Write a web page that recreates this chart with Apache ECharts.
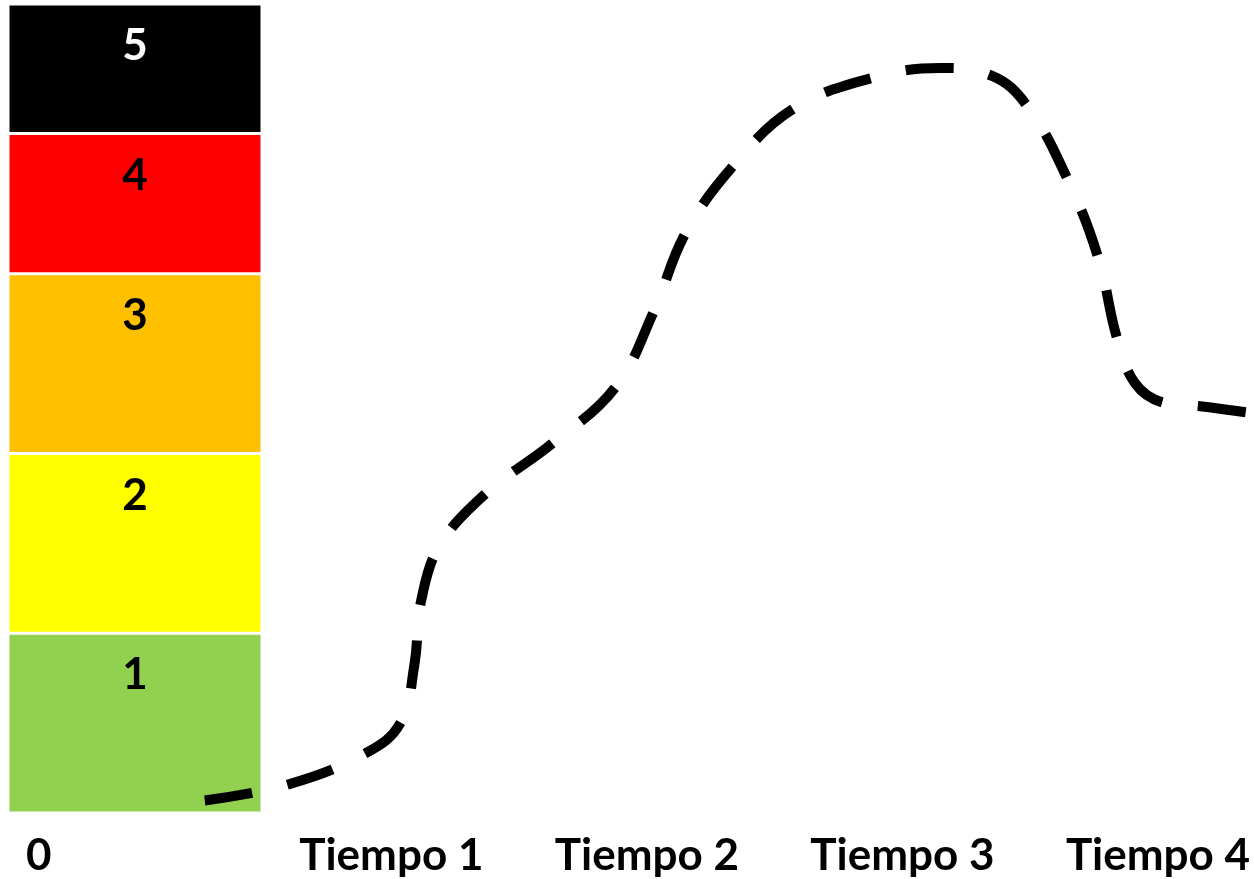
<!DOCTYPE html>
<html>
<head>
<meta charset="utf-8">
<script src="https://cdn.jsdelivr.net/npm/echarts@6/dist/echarts.min.js"></script>
<style>
  html, body { margin: 0; padding: 0; background: #fff; }
  #main { width: 1254px; height: 879px; }
</style>
</head>
<body>
<div id="main"></div>
<script>
// categories on the x axis (value 0..4)
var xLabels = ['0', 'Tiempo 1', 'Tiempo 2', 'Tiempo 3', 'Tiempo 4'];
var xTicks = [0, 1, 2, 3, 4];

// stacked levels in the column at 0
var levelNames = ['1', '2', '3', '4', '5'];
var levelValues = [1, 1, 1, 0.78, 0.72];
var levelColors = ['#92D050', '#FFFF00', '#FFC000', '#FF0000', '#000000'];
var levelLabelColors = ['#000', '#000', '#000', '#000', '#fff'];

// dashed curve
var curveX = [0.27, 0.59, 0.90, 1.035, 1.09, 1.117, 1.19, 1.37, 1.63, 1.876, 2.025, 2.15, 2.338, 2.573, 2.882, 3.148, 3.351, 3.488, 3.645, 3.766, 3.84, 3.911, 4.02, 4.173, 4.349];
var curveY = [0.07, 0.156, 0.333, 0.5, 0.822, 1.183, 1.489, 1.778, 2.056, 2.367, 2.783, 3.222, 3.6, 3.917, 4.089, 4.144, 4.1, 3.933, 3.528, 3.089, 2.639, 2.389, 2.283, 2.261, 2.228];

var font = 'Lato, "Liberation Sans", sans-serif';
var myChart = echarts.init(document.getElementById('main'));

var series = levelNames.map(function (name, i) {
    return {
        name: name,
        type: 'bar',
        stack: 'niveles',
        xAxisIndex: 1,
        yAxisIndex: 1,
        barWidth: '100%',
        data: [levelValues[i]],
        itemStyle: { color: levelColors[i], borderColor: '#fff', borderWidth: 1.5 },
        label: {
            show: true,
            position: 'insideTop',
            distance: 20,
            formatter: name,
            color: levelLabelColors[i],
            fontFamily: font,
            fontWeight: 'bold',
            fontSize: 44
        },
        silent: true
    };
});

series.push({
    type: 'line',
    z: 5,
    data: curveX.map(function (x, i) { return [x, curveY[i]]; }),
    smooth: 0.4,
    showSymbol: false,
    lineStyle: { color: '#000', width: 10, type: [48, 36], cap: 'butt' },
    silent: true
});

myChart.setOption({
    animation: false,
    grid: [
        { left: 8, right: 4, top: 4, bottom: 66 },
        { left: 8, width: 254, top: 4, bottom: 66 }
    ],
    xAxis: [{
        type: 'value',
        min: -0.5,
        max: 4.36,
        splitLine: { show: false },
        axisLine: { show: false },
        axisTick: { show: false },
        axisLabel: {
            customValues: xTicks,
            margin: 21,
            color: '#000',
            fontFamily: font,
            fontWeight: 'bold',
            fontSize: 44,
            formatter: function (v) {
                var t = xLabels[Math.round(v)];
                return v === 0 ? '{z|' + t + '}' : t;
            },
            rich: {
                z: { padding: [0, 194, 0, 0], color: '#000', fontFamily: font, fontWeight: 'bold', fontSize: 44 }
            }
        }
    }, {
        type: 'category',
        gridIndex: 1,
        data: [xLabels[0]],
        show: false
    }],
    yAxis: [{
        type: 'value',
        min: 0,
        max: 4.5,
        show: false
    }, {
        type: 'value',
        gridIndex: 1,
        min: 0,
        max: 4.5,
        show: false
    }],
    series: series
});
</script>
</body>
</html>
